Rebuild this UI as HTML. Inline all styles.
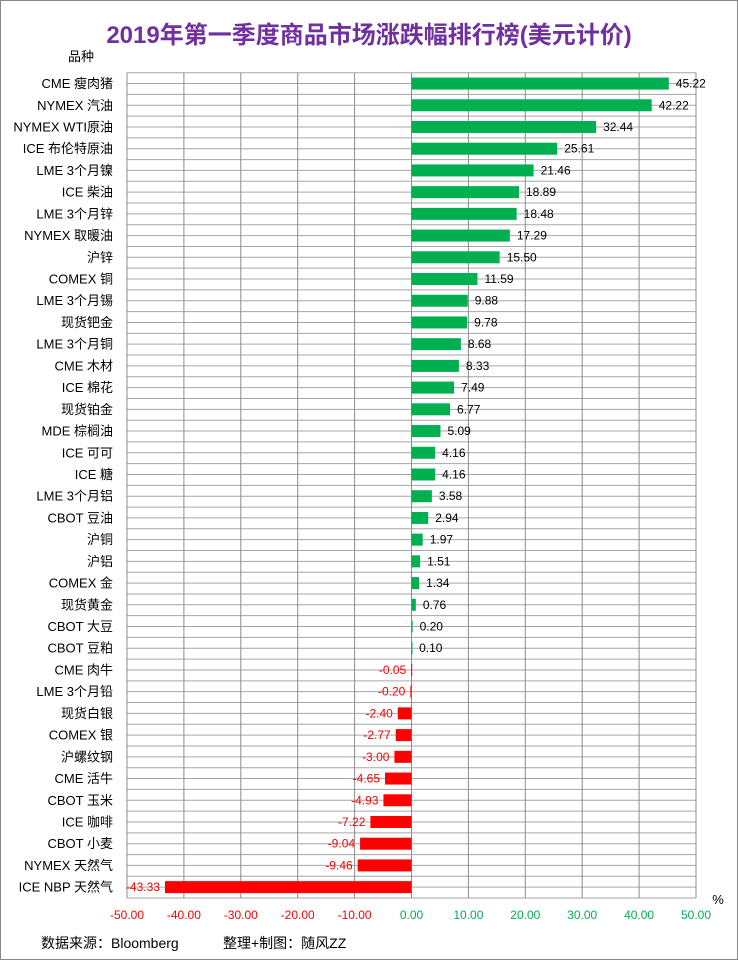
<!DOCTYPE html>
<html><head><meta charset="utf-8"><style>
body{margin:0;background:#fff;font-family:"Liberation Sans","Noto Sans CJK SC",sans-serif}
#wrap{position:relative;width:736px;height:958px;border:1px solid #888;overflow:hidden}
</style></head><body>
<div id="wrap">
<svg id="chart" width="736" height="958"></svg>
</div>
<script>
const categories=["CME 瘦肉猪","NYMEX 汽油","NYMEX WTI原油","ICE 布伦特原油","LME 3个月镍","ICE 柴油","LME 3个月锌","NYMEX 取暖油","沪锌","COMEX 铜","LME 3个月锡","现货钯金","LME 3个月铜","CME 木材","ICE 棉花","现货铂金","MDE 棕榈油","ICE 可可","ICE 糖","LME 3个月铝","CBOT 豆油","沪铜","沪铝","COMEX 金","现货黄金","CBOT 大豆","CBOT 豆粕","CME 肉牛","LME 3个月铅","现货白银","COMEX 银","沪螺纹钢","CME 活牛","CBOT 玉米","ICE 咖啡","CBOT 小麦","NYMEX 天然气","ICE NBP 天然气"];
const values=[45.22,42.22,32.44,25.61,21.46,18.89,18.48,17.29,15.50,11.59,9.88,9.78,8.68,8.33,7.49,6.77,5.09,4.16,4.16,3.58,2.94,1.97,1.51,1.34,0.76,0.20,0.10,-0.05,-0.20,-2.40,-2.77,-3.00,-4.65,-4.93,-7.22,-9.04,-9.46,-43.33];
const ticks=[-50,-40,-30,-20,-10,0,10,20,30,40,50];
const NS="http://www.w3.org/2000/svg";
const svg=document.getElementById('chart');
const L=126,R=695,T=71.7,B=897;
const x=v=>L+(v+50)/100*(R-L);
const rowH=(B-T)/categories.length;
const y=i=>T+rowH*(i+0.5);
function mk(t,a,txt){const e=document.createElementNS(NS,t);for(const k in a)e.setAttribute(k,a[k]);if(txt!==undefined)e.textContent=txt;svg.appendChild(e);return e;}
let e;
e=mk('text',{x:368,y:42,'text-anchor':'middle','font-size':24,'font-weight':'bold',fill:'#7030a0'},'2019年第一季度商品市场涨跌幅排行榜(美元计价)');


e=mk('text',{x:80,y:60,'text-anchor':'middle','font-size':13,fill:'#000'},'品种');


for(let k=0;k<=categories.length*2;k++){const yy=T+rowH*k/2;
e=mk('line',{x1:L,x2:R,y1:yy,y2:yy,stroke:'#a6a6a6','stroke-width':1});

}
ticks.forEach(t=>{
e=mk('line',{x1:x(t),x2:x(t),y1:T,y2:B,stroke:'#8c8c8c','stroke-width':1});


e=mk('text',{x:x(t),y:918,'text-anchor':'middle','font-size':12,fill:t<0?'#ff0000':'#00b050'},t.toFixed(2));

});
e=mk('text',{x:717,y:903,'text-anchor':'middle','font-size':13,fill:'#000'},'%');


categories.forEach((c,i)=>{const v=values[i];const yc=y(i);
e=mk('text',{x:112,y:yc+4.5,'text-anchor':'end','font-size':13,fill:'#000'},c);


const x0=x(0),x1=x(v);
e=mk('rect',{x:Math.min(x0,x1),y:yc-6,width:Math.max(Math.abs(x1-x0),1),height:12,fill:v<0?'#ff0000':'#00b050'});


e=mk('text',{x:v<0?Math.min(x1,x0)-5:x1+7,y:yc+4,'text-anchor':v<0?'end':'start','font-size':12,fill:v<0?'#ff0000':'#000'},v.toFixed(2));

});
e=mk('text',{x:40,y:947,'font-size':14,fill:'#000'},'数据来源：Bloomberg');


e=mk('text',{x:222,y:947,'font-size':14,fill:'#000'},'整理+制图：随风ZZ');


</script>
</body></html>
